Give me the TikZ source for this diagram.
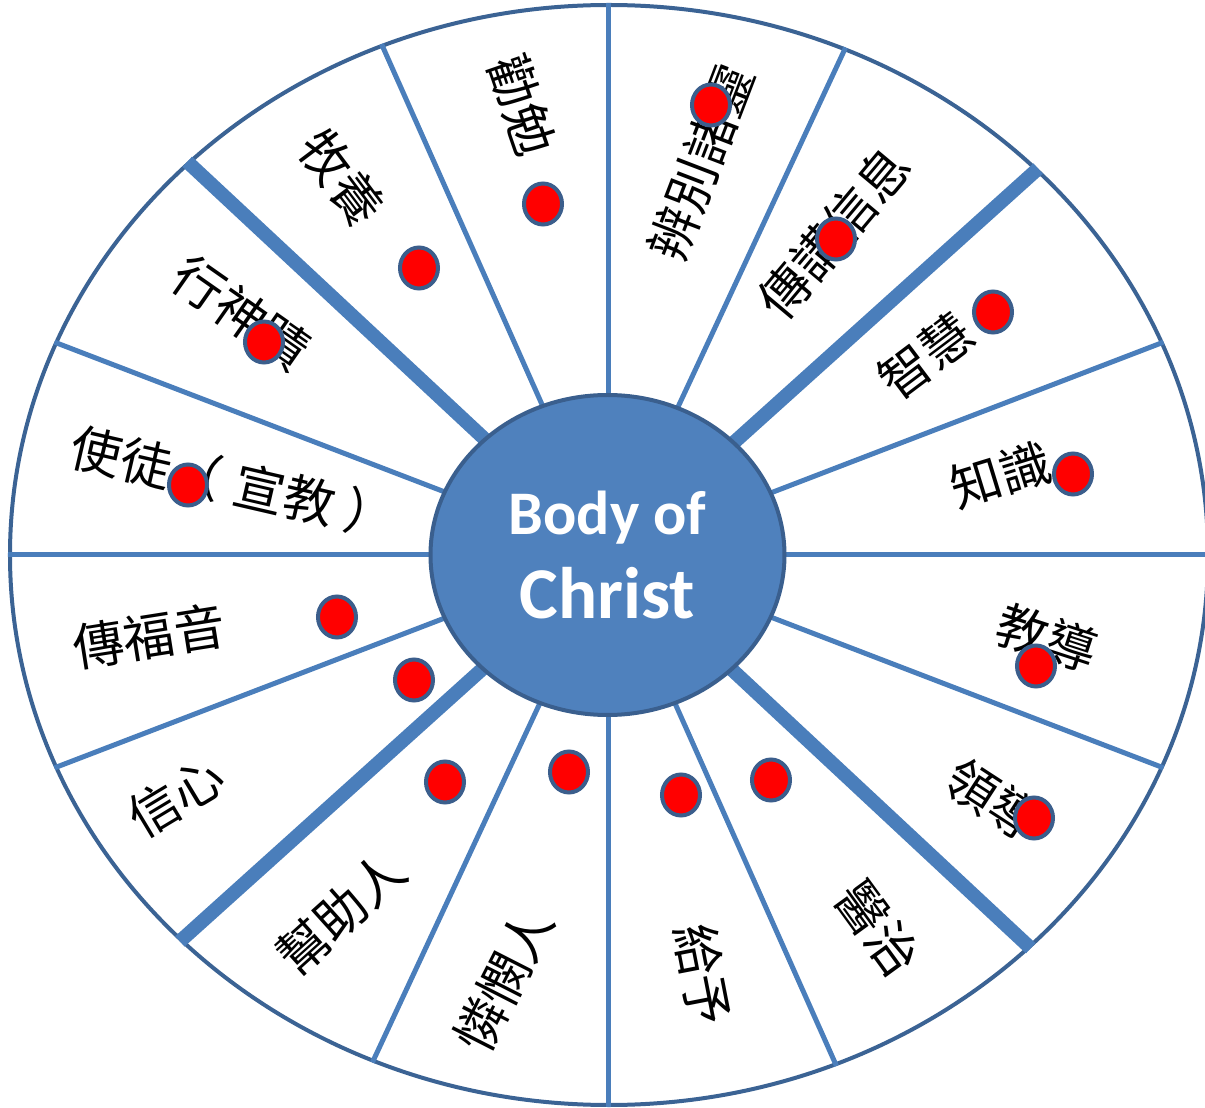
\documentclass[tikz,border=0pt]{standalone}
\usepackage{fontspec}
\setmainfont{Carlito}
\newfontfamily\cjk{Noto Sans CJK TC}
\usetikzlibrary{shapes.geometric}
\definecolor{spokeblue}{HTML}{4A7EBB}
\definecolor{rimblue}{HTML}{3B6394}
\definecolor{hubblue}{HTML}{4F81BD}
\definecolor{hubline}{HTML}{3A5F8E}
\definecolor{dotline}{HTML}{3B5E8C}

\begin{document}
\begin{tikzpicture}[x=1pt,y=1pt]

			\tikzstyle{wheel}=[ellipse,draw=rimblue,line width=4pt,
				minimum width=1198pt,minimum height=1100pt,
				inner sep=0pt]
			\tikzstyle{bodynode}=[ellipse,fill=hubblue,draw=hubline,line width=4pt,
				minimum width=354pt,minimum height=320pt,inner sep=0pt,
				text=white,align=center,
				font=\bfseries\fontsize{62}{84}\selectfont]
			\tikzstyle{spoke}=[draw=spokeblue,line width=5pt]
			\tikzstyle{thickspoke}=[draw=spokeblue,line width=14pt]
			\tikzstyle{gift}=[inner sep=0pt,
				font=\cjk\fontsize{51}{51}\selectfont]
			\tikzstyle{dot}=[ellipse,fill=red,draw=dotline,line width=4pt,
				minimum width=38pt,minimum height=41pt,inner sep=0pt]

			\useasboundingbox (-609,-553) rectangle (596,555);

			\node[wheel]	(wheel)	at (0,0)	{};

			% spokes
			\draw[spoke]	(wheel.center) -- (wheel.0);
			\draw[spoke]	(wheel.center) -- (wheel.21);
			\draw[thickspoke]	(wheel.center) -- (wheel.42.5);
			\draw[spoke]	(wheel.center) -- (wheel.65.7);
			\draw[spoke]	(wheel.center) -- (wheel.90);
			\draw[spoke]	(wheel.center) -- (wheel.114.3);
			\draw[thickspoke]	(wheel.center) -- (wheel.137.5);
			\draw[spoke]	(wheel.center) -- (wheel.159);
			\draw[spoke]	(wheel.center) -- (wheel.180);
			\draw[spoke]	(wheel.center) -- (wheel.201);
			\draw[thickspoke]	(wheel.center) -- (wheel.222.5);
			\draw[spoke]	(wheel.center) -- (wheel.245.7);
			\draw[spoke]	(wheel.center) -- (wheel.270);
			\draw[spoke]	(wheel.center) -- (wheel.294.3);
			\draw[thickspoke]	(wheel.center) -- (wheel.317.5);
			\draw[spoke]	(wheel.center) -- (wheel.339);

			\node[bodynode]	(body)	at (-1.5,0)
				{Body of\\{\fontsize{73}{84}\selectfont Christ}};

			% gifts
			\node[gift,rotate=-71]	(g1)	at (-87,450)	{勸勉};
			\node[gift,rotate=69]	(g2)	at (92,393)	{辨別諸靈};
			\node[gift,rotate=50]	(g3)	at (225,322)	{傳講信息};
			\node[gift,rotate=37]	(g4)	at (317,199)	{智慧};
			\node[gift,rotate=17]	(g5)	at (392,80)	{知識};
			\node[gift,rotate=-18]	(g6)	at (438,-83)	{教導};
			\node[gift,rotate=-33]	(g7)	at (385,-245)	{領導};
			\node[gift,rotate=-54]	(g8)	at (269,-373)	{醫治};
			\node[gift,rotate=-79]	(g9)	at (94,-420)	{給予};
			\node[gift,rotate=63]	(g10)	at (-105,-425)	{憐憫人};
			\node[gift,rotate=42]	(g11)	at (-268,-358)	{幫助人};
			\node[gift,rotate=31]	(g12)	at (-433,-242)	{信心};
			\node[gift,rotate=9]	(g13)	at (-460,-81)	{傳福音};
			\node[gift,rotate=-13]	(g14)	at (-375,72)
				{使徒（\hspace{14pt}宣教\hspace{12pt}）};
			\node[gift,rotate=-35]	(g15)	at (-368,242)	{行神蹟};
			\node[gift,rotate=-53]	(g16)	at (-267,377)	{牧養};

			% marks
			\node[dot]	(d1)	at (102,450)	{};
			\node[dot]	(d2)	at (-66,351)	{};
			\node[dot]	(d3)	at (227,316)	{};
			\node[dot]	(d4)	at (-190,287)	{};
			\node[dot]	(d5)	at (384,243)	{};
			\node[dot]	(d6)	at (-345,213)	{};
			\node[dot]	(d7)	at (-421,70)	{};
			\node[dot]	(d8)	at (464,81)	{};
			\node[dot]	(d9)	at (-272,-62)	{};
			\node[dot]	(d10)	at (-195,-125)	{};
			\node[dot]	(d11)	at (427,-111)	{};
			\node[dot]	(d12)	at (-164,-227)	{};
			\node[dot]	(d13)	at (-40,-217)	{};
			\node[dot]	(d14)	at (162,-225)	{};
			\node[dot]	(d15)	at (72,-240)	{};
			\node[dot]	(d16)	at (425,-263)	{};

\end{tikzpicture}
\end{document}
